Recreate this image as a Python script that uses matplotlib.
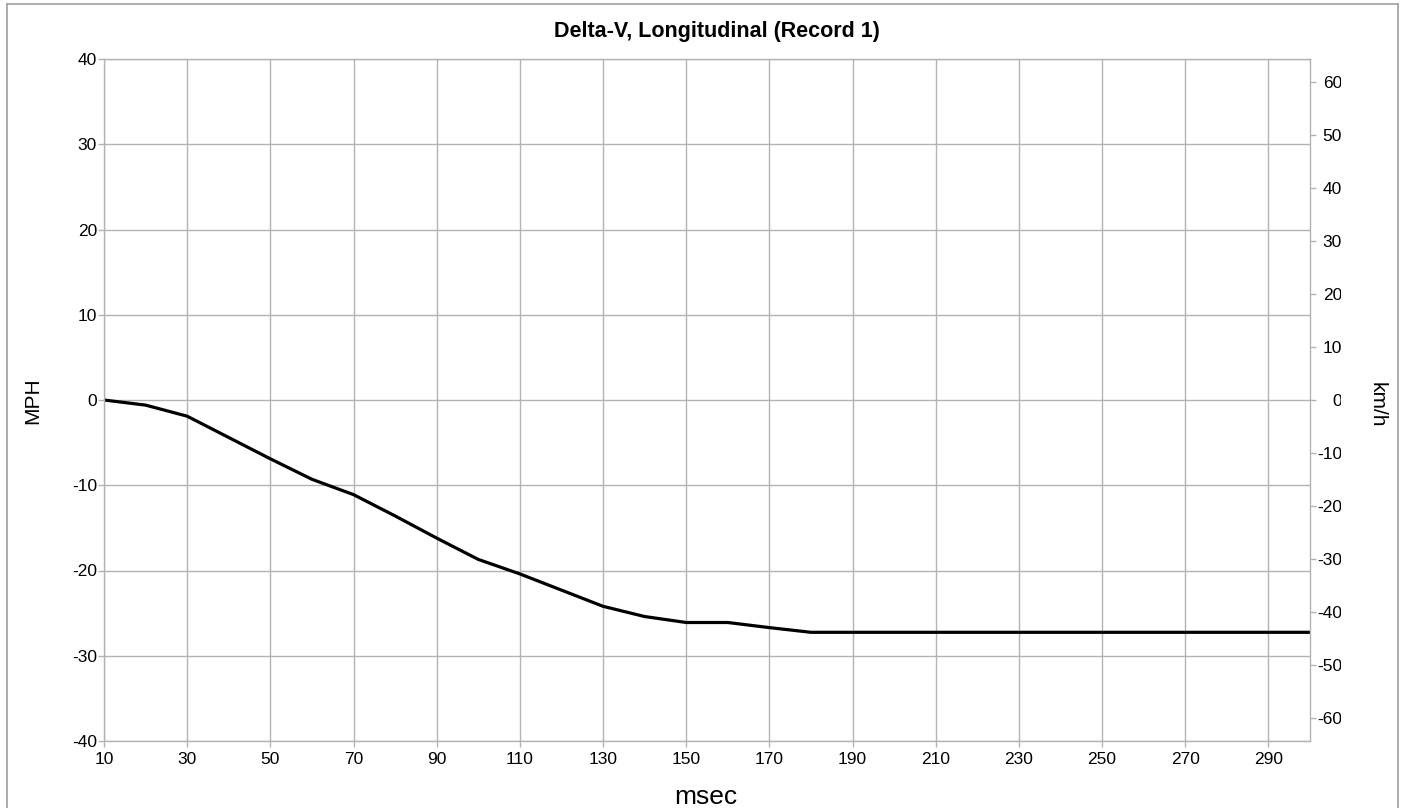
import matplotlib
matplotlib.use("Agg")
import matplotlib.pyplot as plt
from matplotlib.lines import Line2D
from matplotlib.transforms import Bbox, TransformedBbox

plt.rcParams['font.family'] = ['Liberation Sans', 'DejaVu Sans']
plt.rcParams['axes.unicode_minus'] = False

msec = [10, 20, 30, 40, 50, 60, 70, 80, 90, 100, 110, 120, 130, 140, 150,
        160, 170, 180, 190, 200, 210, 220, 230, 240, 250, 260, 270, 280, 290, 300]
mph = [0.0, -0.6, -1.9, -4.4, -6.9, -9.3, -11.1, -13.6, -16.2, -18.7, -20.4,
       -22.3, -24.2, -25.4, -26.1, -26.1, -26.7, -27.25, -27.25, -27.25, -27.25,
       -27.25, -27.25, -27.25, -27.25, -27.25, -27.25, -27.25, -27.25, -27.25]
x_ticks = [10, 30, 50, 70, 90, 110, 130, 150, 170, 190, 210, 230, 250, 270, 290]
y_ticks = [-40, -30, -20, -10, 0, 10, 20, 30, 40]
kmh_ticks = [-60, -50, -40, -30, -20, -10, 0, 10, 20, 30, 40, 50, 60]

W, H = 1407, 808
fig = plt.figure(figsize=(W / 100, H / 100), dpi=100)
L, R, T, B = 104, 1310, 59, 741
ax = fig.add_axes([L / W, 1 - B / H, (R - L) / W, (B - T) / H])

def fx(px):
    return px / W

def fy(py):
    return 1 - py / H

grid_c = '#b3b3b3'
ax.set_xlim(10, 300)
ax.set_ylim(-40, 40)
ax.set_xticks(x_ticks)
ax.set_yticks(y_ticks)
ax.grid(True, color=grid_c, linewidth=1.0)
ax.set_axisbelow(True)
for s in ax.spines.values():
    s.set_color(grid_c)
    s.set_linewidth(1.0)
ax.tick_params(axis='x', colors=grid_c, length=4, width=1, labelcolor='black',
               labelsize=12.5, pad=4)
ax.tick_params(axis='y', colors=grid_c, length=4, width=1, labelcolor='black',
               labelsize=12.5, pad=1)

ax.plot(msec, mph, color='black', linewidth=2.3, solid_joinstyle='round')

fig.text(fx(717), fy(32), 'Delta-V, Longitudinal (Record 1)', fontsize=15.5,
         fontweight='bold', ha='center', va='center')
fig.text(fx(706), fy(797), 'msec', fontsize=19, ha='center', va='center')
fig.text(fx(33), fy(401), 'MPH', fontsize=15, ha='center', va='center', rotation=90)
fig.text(fx(1377), fy(405), 'km/h', fontsize=15, ha='center', va='center', rotation=-90)

ax2 = ax.twinx()
ax2.set_ylim(-40 * 1.609344, 40 * 1.609344)
ax2.set_yticks(kmh_ticks)
ax2.tick_params(axis='y', colors=grid_c, length=4, width=1, labelcolor='black',
                labelsize=12.5, pad=19)
for s in ax2.spines.values():
    s.set_visible(False)
for lbl in ax2.get_yticklabels():
    lbl.set_ha('right')

clip = TransformedBbox(Bbox([[0, 0], [1341 / W, 1]]), fig.transFigure)
fig.canvas.draw()
for lbl in ax2.get_yticklabels():
    lbl.set_clip_box(clip)
    lbl.set_clip_on(True)

# outer frame
fc = '#a0a0a0'
fig.add_artist(Line2D([fx(7), fx(7)], [0, fy(4)], transform=fig.transFigure, color=fc, lw=1.2))
fig.add_artist(Line2D([fx(7), fx(1398)], [fy(4), fy(4)], transform=fig.transFigure, color=fc, lw=1.2))
fig.add_artist(Line2D([fx(1398), fx(1398)], [0, fy(4)], transform=fig.transFigure, color=fc, lw=1.2))

fig.savefig('out.png', dpi=100)
